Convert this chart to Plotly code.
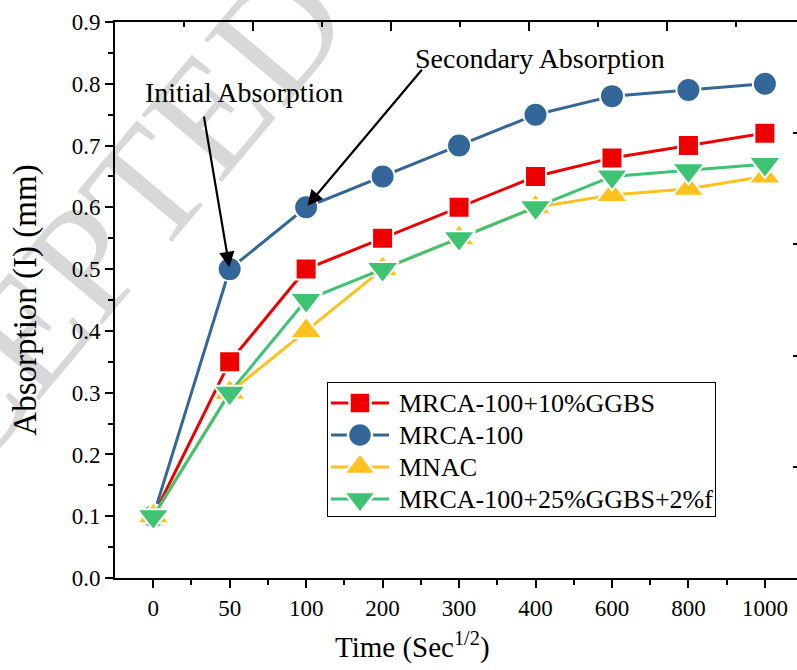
import plotly.graph_objects as go

# Time steps (Sec^1/2) shown as evenly spaced categories
time_labels = ["0", "50", "100", "200", "300", "400", "600", "800", "1000"]

# Absorption (mm) for each mix
mrca100_10ggbs = [0.10, 0.35, 0.50, 0.55, 0.60, 0.65, 0.68, 0.70, 0.72]
mrca100 = [0.10, 0.50, 0.60, 0.65, 0.70, 0.75, 0.78, 0.79, 0.80]
mnac = [0.10, 0.30, 0.40, 0.50, 0.55, 0.60, 0.62, 0.63, 0.65]
mrca100_25ggbs_2f = [0.10, 0.30, 0.45, 0.50, 0.55, 0.60, 0.65, 0.66, 0.67]

series_names = ["MRCA-100+10%GGBS", "MRCA-100", "MNAC", "MRCA-100+25%GGBS+2%f"]
series_values = [mrca100_10ggbs, mrca100, mnac, mrca100_25ggbs_2f]
series_colors = ["#EE0000", "#336699", "#FFC11E", "#3DC373"]
series_symbols = ["square", "circle", "triangle-up", "triangle-down"]
series_sizes = [21, 24, 28, 28]

FONT = "Liberation Serif"
xpos = list(range(len(time_labels)))

fig = go.Figure()

for name, vals, col, sym, sz in zip(series_names, series_values, series_colors,
                                    series_symbols, series_sizes):
    fig.add_trace(go.Scatter(
        x=xpos, y=vals, name=name, mode="lines+markers", showlegend=False,
        line=dict(color=col, width=3),
        marker=dict(symbol=sym, size=sz, color=col,
                    line=dict(color="white", width=2)),
    ))

# helper traces so the frame axes (top and right) are rendered
fig.add_trace(go.Scatter(x=[None], y=[None], xaxis="x2", yaxis="y",
                         showlegend=False, hoverinfo="skip"))
fig.add_trace(go.Scatter(x=[None], y=[None], xaxis="x", yaxis="y2",
                         showlegend=False, hoverinfo="skip"))

# legend drawn in its own small panel (pixel-like units, y downwards)
row_gap = 32
for i, (name, col, sym, sz) in enumerate(zip(series_names, series_colors,
                                              series_symbols, series_sizes)):
    ry = 20 + row_gap * i
    fig.add_trace(go.Scatter(x=[3, 61], y=[ry, ry], mode="lines",
                             line=dict(color=col, width=3), xaxis="x3",
                             yaxis="y3", showlegend=False, hoverinfo="skip"))
    fig.add_trace(go.Scatter(x=[32], y=[ry], mode="markers",
                             marker=dict(symbol=sym, size=sz, color=col,
                                         line=dict(color="white", width=2.5)),
                             xaxis="x3", yaxis="y3", showlegend=False,
                             hoverinfo="skip"))
    fig.add_annotation(x=69, y=ry, xref="x3", yref="y3", text=name,
                       showarrow=False, xanchor="left", yanchor="middle",
                       font=dict(family=FONT, size=26, color="black"))

# faint watermark behind the data
fig.add_shape(type="line", xref="paper", yref="paper",
              x0=0.1056, y0=0.836, x1=0.6716, y1=1.664,
              line=dict(width=0, color="rgba(0,0,0,0)"), layer="below",
              label=dict(text="ACCEPTED MANUSCRIPT", textposition="middle",
                         yanchor="middle",
                         font=dict(family=FONT, size=160, color="#D8D8D8")))

# callouts
fig.add_annotation(x=1, y=0.5, xref="x", yref="y", ax=-26, ay=-154,
                   text="", showarrow=True, arrowhead=2, arrowsize=1.4,
                   arrowwidth=2.2, arrowcolor="black", standoff=2)
fig.add_annotation(x=2, y=0.6, xref="x", yref="y", ax=117, ay=-139,
                   text="", showarrow=True, arrowhead=2, arrowsize=1.4,
                   arrowwidth=2.2, arrowcolor="black", standoff=2)
fig.add_annotation(x=0.189, y=0.874, xref="paper", yref="paper",
                   xanchor="center", yanchor="middle",
                   text="Initial Absorption", showarrow=False,
                   font=dict(family=FONT, size=28, color="black"))
fig.add_annotation(x=0.623, y=0.935, xref="paper", yref="paper",
                   xanchor="center", yanchor="middle",
                   text="Secondary Absorption", showarrow=False,
                   font=dict(family=FONT, size=28, color="black"))

# x-axis title
fig.add_annotation(x=0.4355, y=-0.122, xref="paper", yref="paper",
                   xanchor="center", yanchor="middle",
                   text="Time (Sec<sup>1/2</sup>)", showarrow=False,
                   font=dict(family=FONT, size=29, color="black"))

fig.update_layout(
    width=797, height=670,
    margin=dict(l=115, r=0, t=22, b=92),
    paper_bgcolor="white", plot_bgcolor="rgba(0,0,0,0)",
    font=dict(family=FONT, color="black"),
    showlegend=False,
    xaxis=dict(
        range=[-0.5, 8.42], tickmode="array", tickvals=xpos,
        ticktext=time_labels, ticks="outside", ticklen=8, tickwidth=2,
        tickcolor="black", showline=True, linecolor="black", linewidth=2,
        showgrid=False, zeroline=False,
        tickfont=dict(family=FONT, size=23),
        minor=dict(tickmode="array",
                   tickvals=[i + 0.5 for i in xpos[:-1]],
                   ticks="outside", ticklen=5, tickwidth=2,
                   tickcolor="black", showgrid=False),
    ),
    xaxis2=dict(
        overlaying="x", side="top", range=[0, 682 / 138],
        tickmode="linear", tick0=0, dtick=1, ticks="inside", ticklen=9,
        tickwidth=2, tickcolor="black", showticklabels=False,
        showline=True, linecolor="black", linewidth=2, showgrid=False,
        zeroline=False,
        minor=dict(ticks="inside", dtick=0.5, ticklen=5, tickwidth=2,
                   tickcolor="black", showgrid=False),
    ),
    yaxis=dict(
        range=[0, 0.9], tickmode="linear", tick0=0, dtick=0.1,
        tickformat=".1f", ticks="outside", ticklen=8, tickwidth=2,
        tickcolor="black", showline=True, linecolor="black", linewidth=2,
        showgrid=False, zeroline=False,
        tickfont=dict(family=FONT, size=23),
        minor=dict(ticks="outside", dtick=0.05, ticklen=5, tickwidth=2,
                   tickcolor="black", showgrid=False),
        title=dict(text="Absorption (I) (mm)",
                   font=dict(family=FONT, size=33), standoff=25),
    ),
    yaxis2=dict(
        overlaying="y", side="right", anchor="free", position=1,
        range=[0, 5], tickmode="linear", tick0=0, dtick=1,
        ticks="inside", ticklen=4, tickwidth=2, tickcolor="black",
        showticklabels=False, showline=False, showgrid=False,
        zeroline=False,
    ),
    xaxis3=dict(
        domain=[0.3123, 0.8798], range=[0, 387], anchor="y3",
        showline=True, mirror=True, linecolor="black", linewidth=1,
        showticklabels=False, ticks="", showgrid=False, zeroline=False,
        fixedrange=True,
    ),
    yaxis3=dict(
        domain=[0.1115, 0.3507], range=[133, 0], anchor="x3",
        showline=True, mirror=True, linecolor="black", linewidth=1,
        showticklabels=False, ticks="", showgrid=False, zeroline=False,
        fixedrange=True,
    ),
)

fig.write_html("out.html")
